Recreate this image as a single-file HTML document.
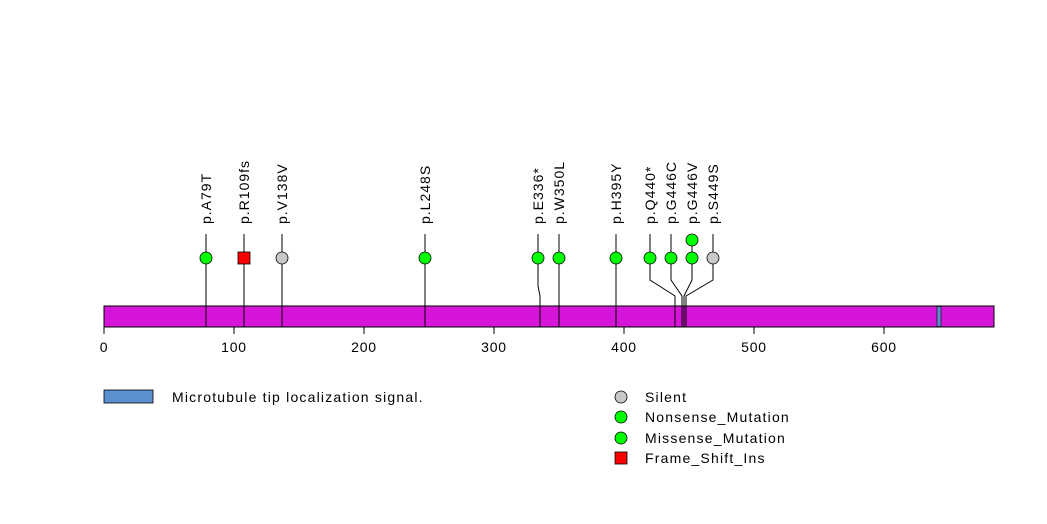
<!DOCTYPE html>
<html><head><meta charset="utf-8"><style>
body{margin:0;background:#fff;}
svg{display:block;font-family:"Liberation Sans",sans-serif;}
</style></head><body>
<svg width="1047" height="524" viewBox="0 0 1047 524" xmlns="http://www.w3.org/2000/svg">
<rect x="0" y="0" width="1047" height="524" fill="#fff"/>
<g stroke="#000" stroke-width="1" fill="none">
<polyline points="206,234 206,327"/>
<polyline points="244,234 244,327"/>
<polyline points="282,234 282,327"/>
<polyline points="425,234 425,327"/>
<polyline points="538,234 538,286 540,296 540,327"/>
<polyline points="559,234 559,327"/>
<polyline points="616,234 616,327"/>
<polyline points="650,234 650,280 675,296 675,327"/>
<polyline points="671,234 671,280 682,296 682,327"/>
<polyline points="692,234 692,280 684,296 684,327"/>
<polyline points="713,234 713,280 686,296 686,327"/>
</g>
<rect x="104" y="306" width="890" height="21" fill="#d516d9" stroke="#000"/>
<rect x="937" y="306.5" width="4" height="20" fill="#5a8fd0" stroke="#000" stroke-width="0.6"/>
<g stroke="#000" stroke-width="1">
<line x1="206" y1="306" x2="206" y2="327"/>
<line x1="244" y1="306" x2="244" y2="327"/>
<line x1="282" y1="306" x2="282" y2="327"/>
<line x1="425" y1="306" x2="425" y2="327"/>
<line x1="540" y1="306" x2="540" y2="327"/>
<line x1="559" y1="306" x2="559" y2="327"/>
<line x1="616" y1="306" x2="616" y2="327"/>
<line x1="675" y1="306" x2="675" y2="327"/>
<line x1="682" y1="306" x2="682" y2="327"/>
<line x1="684" y1="306" x2="684" y2="327"/>
<line x1="686" y1="306" x2="686" y2="327"/>
</g>
<g stroke="#000" stroke-width="1">
<line x1="104" y1="327" x2="104" y2="334"/>
<line x1="234" y1="327" x2="234" y2="334"/>
<line x1="364" y1="327" x2="364" y2="334"/>
<line x1="494" y1="327" x2="494" y2="334"/>
<line x1="624" y1="327" x2="624" y2="334"/>
<line x1="754" y1="327" x2="754" y2="334"/>
<line x1="884" y1="327" x2="884" y2="334"/>
</g>
<g font-size="14" text-anchor="middle" fill="#000" letter-spacing="0.8">
<text x="104" y="352">0</text><text x="234" y="352">100</text><text x="364" y="352">200</text>
<text x="494" y="352">300</text><text x="624" y="352">400</text><text x="754" y="352">500</text><text x="884" y="352">600</text>
</g>
<g stroke="#000" stroke-width="0.8">
<circle cx="206" cy="258" r="6" fill="#00ff00"/>
<rect x="238" y="252" width="12" height="12" fill="#ff0000"/>
<circle cx="282" cy="258" r="6" fill="#c8c8c8"/>
<circle cx="425" cy="258" r="6" fill="#00ff00"/>
<circle cx="538" cy="258" r="6" fill="#00ff00"/>
<circle cx="559" cy="258" r="6" fill="#00ff00"/>
<circle cx="616" cy="258" r="6" fill="#00ff00"/>
<circle cx="650" cy="258" r="6" fill="#00ff00"/>
<circle cx="671" cy="258" r="6" fill="#00ff00"/>
<circle cx="692" cy="258" r="6" fill="#00ff00"/>
<circle cx="692" cy="240" r="6" fill="#00ff00"/>
<circle cx="713" cy="258" r="6" fill="#c8c8c8"/>
</g>
<g font-size="14" fill="#000" letter-spacing="1">
<text transform="translate(211,224) rotate(-90)">p.A79T</text>
<text transform="translate(249,224) rotate(-90)">p.R109fs</text>
<text transform="translate(287,224) rotate(-90)">p.V138V</text>
<text transform="translate(430,224) rotate(-90)">p.L248S</text>
<text transform="translate(543,224) rotate(-90)">p.E336*</text>
<text transform="translate(564,224) rotate(-90)">p.W350L</text>
<text transform="translate(621,224) rotate(-90)">p.H395Y</text>
<text transform="translate(655,224) rotate(-90)">p.Q440*</text>
<text transform="translate(676,224) rotate(-90)">p.G446C</text>
<text transform="translate(697,224) rotate(-90)">p.G446V</text>
<text transform="translate(718,224) rotate(-90)">p.S449S</text>
</g>
<rect x="104" y="390" width="49" height="13" fill="#5a8fd0" stroke="#000" stroke-width="0.8"/>
<text x="172" y="402" font-size="14" letter-spacing="1.2">Microtubule tip localization signal.</text>
<g stroke="#000" stroke-width="0.8">
<circle cx="621" cy="397" r="6" fill="#c8c8c8"/>
<circle cx="621" cy="417" r="6" fill="#00ff00"/>
<circle cx="621" cy="438" r="6" fill="#00ff00"/>
<rect x="615" y="452" width="12" height="12" fill="#ff0000"/>
</g>
<g font-size="14" fill="#000" letter-spacing="1.2">
<text x="645" y="402">Silent</text>
<text x="645" y="422">Nonsense_Mutation</text>
<text x="645" y="443">Missense_Mutation</text>
<text x="645" y="463">Frame_Shift_Ins</text>
</g>
</svg>
</body></html>
